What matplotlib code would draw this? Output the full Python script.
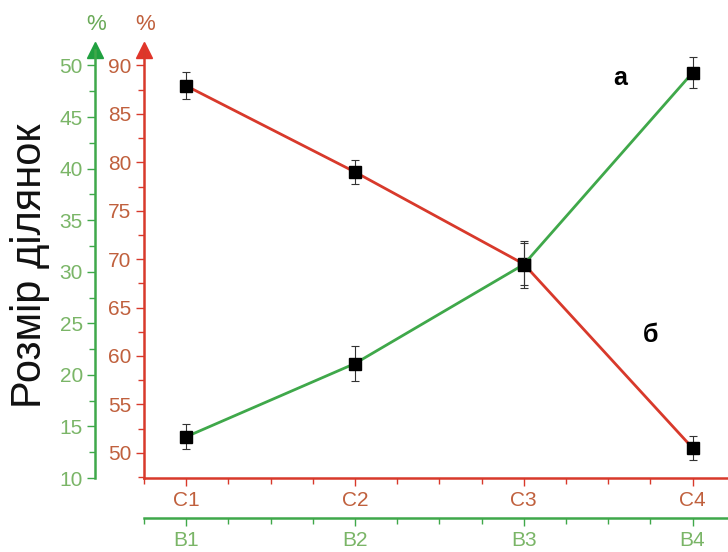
import matplotlib.pyplot as plt
from matplotlib.transforms import ScaledTranslation
from matplotlib.ticker import MultipleLocator

plt.rcParams['font.family'] = ['Liberation Sans', 'DejaVu Sans']

# data
pos = [1, 2, 3, 4]
c_labels = ["C1", "C2", "C3", "C4"]
b_labels = ["B1", "B2", "B3", "B4"]
red_vals = [87.9, 79.0, 69.5, 50.5]
red_err = [1.4, 1.2, 2.2, 1.2]
green_vals = [14.0, 21.1, 30.7, 49.3]
green_err = [1.2, 1.7, 2.3, 1.5]

RED = "#d8392b"
RED_TXT = "#c0603d"
GREEN = "#3fa84a"
GREEN_TXT = "#7ab567"
TICK_FS = 15

W, H = 728, 552
fig = plt.figure(figsize=(W / 100, H / 100), dpi=100)
left, bottom, top = 144, 478, 50
ax = fig.add_axes([left / W, (H - bottom) / H, (W - left) / W, (bottom - top) / H])

ax.errorbar(pos, red_vals, yerr=red_err, color=RED, lw=2, marker="s", ms=8,
            mfc="black", mec="black", ecolor="#333333", elinewidth=0.8,
            capsize=3, capthick=0.8, zorder=3)
ax.set_xlim(0.75, 4.21)
ax.set_ylim(47.4, 91.6)

for s in ["top", "right"]:
    ax.spines[s].set_visible(False)
for s in ["left", "bottom"]:
    ax.spines[s].set_color(RED)
    ax.spines[s].set_linewidth(1.8)

ax.yaxis.set_minor_locator(MultipleLocator(2.5))
ax.set_yticks([50, 55, 60, 65, 70, 75, 80, 85, 90])
ax.tick_params(axis="y", which="both", colors=RED, labelcolor=RED_TXT, labelsize=TICK_FS, pad=3)
ax.tick_params(axis="y", which="major", length=6, width=1)
ax.tick_params(axis="y", which="minor", length=4, width=1)

ax.set_xticks(pos)
ax.set_xticklabels(c_labels)
ax.xaxis.set_minor_locator(MultipleLocator(0.25))
ax.tick_params(axis="x", which="both", colors=RED, labelcolor=RED_TXT, labelsize=TICK_FS, pad=3)
ax.tick_params(axis="x", which="major", length=6, width=1)
ax.tick_params(axis="x", which="minor", length=4, width=1)

# green y axis, offset to the left
ax2 = ax.twinx()
ax2.errorbar(pos, green_vals, yerr=green_err, color=GREEN, lw=2, marker="s", ms=8,
             mfc="black", mec="black", ecolor="#333333", elinewidth=0.8,
             capsize=3, capthick=0.8, zorder=3)
ax2.set_ylim(10, 51.5)
ax2.yaxis.tick_left()
ax2.spines["left"].set_position(("outward", 35))
ax2.spines["left"].set_visible(True)
ax2.spines["left"].set_color(GREEN)
ax2.spines["left"].set_linewidth(1.8)
for s in ["top", "right", "bottom"]:
    ax2.spines[s].set_visible(False)
ax2.yaxis.set_major_locator(MultipleLocator(5))
ax2.yaxis.set_minor_locator(MultipleLocator(2.5))
ax2.tick_params(axis="y", which="both", colors=GREEN, labelcolor=GREEN_TXT, labelsize=TICK_FS, pad=3)
ax2.tick_params(axis="y", which="major", length=6, width=1)
ax2.tick_params(axis="y", which="minor", length=4, width=1)

# green x axis below
sec = ax.secondary_xaxis(-40 / (bottom - top))
sec.spines["bottom"].set_color(GREEN)
sec.spines["bottom"].set_linewidth(1.8)
sec.set_xticks(pos)
sec.set_xticklabels(b_labels)
sec.xaxis.set_minor_locator(MultipleLocator(0.25))
sec.tick_params(axis="x", which="both", colors=GREEN, labelcolor=GREEN_TXT, labelsize=TICK_FS, pad=3)
sec.tick_params(axis="x", which="major", length=6, width=1)
sec.tick_params(axis="x", which="minor", length=4, width=1)

# arrow heads and % labels
ax.plot(0, 1, marker="^", ms=12, color="#e0352a", transform=ax.transAxes, clip_on=False)
shift = ScaledTranslation(-0.49, 0, fig.dpi_scale_trans)
ax.plot(0, 1, marker="^", ms=12, color="#20a040", transform=ax.transAxes + shift, clip_on=False)
fig.text(145 / W, 1 - 24 / H, "%", color="#c0603d", fontsize=16, ha="center", va="center")
fig.text(96 / W, 1 - 24 / H, "%", color="#6aaa58", fontsize=16, ha="center", va="center")

ax.text(3.57, 88.7, "а", fontsize=18, fontweight="bold", ha="center", va="center")
ax2.text(3.75, 23.9, "б", fontsize=18, fontweight="bold", ha="center", va="center")

fig.text(30 / W, 1 - 266 / H, "Розмір ділянок", rotation=90, fontsize=30,
         ha="center", va="center", color="#111111")

fig.savefig("out.png", dpi=100)
